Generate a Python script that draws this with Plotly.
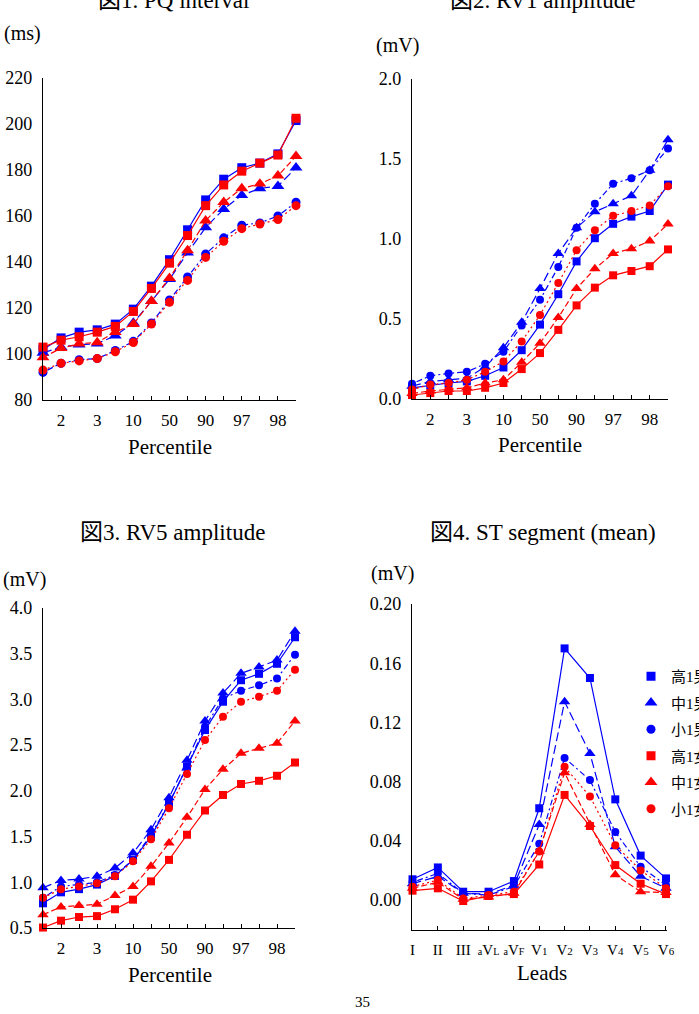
import plotly.graph_objects as go

W, H = 699, 1014

# ---------------- data ----------------
percentile_points = ["1", "2", "2.5", "3", "5", "10", "25", "50", "75", "90", "95", "97", "97.5", "98", "99"]
percentile_ticktext = ["", "2", "", "3", "", "10", "", "50", "", "90", "", "97", "", "98", ""]

lead_names = ["I", "II", "III", "aVL", "aVF", "V1", "V2", "V3", "V4", "V5", "V6"]
lead_ticktext = [
    "I", "II", "III",
    "<span style='font-size:10px'>a</span>V<span style='font-size:10px'>L</span>",
    "<span style='font-size:10px'>a</span>V<span style='font-size:10px'>F</span>",
    "V<span style='font-size:11px'>1</span>", "V<span style='font-size:11px'>2</span>",
    "V<span style='font-size:11px'>3</span>", "V<span style='font-size:11px'>4</span>",
    "V<span style='font-size:11px'>5</span>", "V<span style='font-size:11px'>6</span>",
]

group_names = ["高1男", "中1男", "小1男", "高1女", "中1女", "小1女"]

pq_high_m = [102, 107, 109.5, 110.5, 113, 119.5, 129.5, 141, 154, 167, 176, 181, 183, 187, 201.5]
pq_mid_m = [100.5, 103, 104, 104.5, 108, 113.5, 123, 132.5, 144, 155, 163, 169, 172, 173, 181]
pq_small_m = [92, 96, 97.5, 98, 101.5, 105.5, 113.5, 123.5, 133.5, 143.5, 150.5, 156, 157, 160, 166]
pq_high_f = [103, 106, 107.5, 109.5, 112, 118.5, 128.5, 139.5, 151.5, 164.5, 173.5, 179.5, 183, 186.5, 202.5]
pq_mid_f = [98.5, 102.5, 104.5, 105, 109.5, 113, 123, 133, 145, 158, 166, 172, 174, 177.5, 186]
pq_small_f = [93, 96, 97, 98, 101, 105, 113, 122.5, 132, 142, 149, 154.5, 156.5, 158.5, 164.5]

rv1_high_m = [0.07, 0.085, 0.10, 0.11, 0.145, 0.197, 0.305, 0.465, 0.655, 0.86, 1.005, 1.095, 1.14, 1.175, 1.34]
rv1_mid_m = [0.08, 0.11, 0.12, 0.13, 0.20, 0.32, 0.48, 0.69, 0.91, 1.07, 1.17, 1.22, 1.27, 1.43, 1.62]
rv1_small_m = [0.095, 0.145, 0.16, 0.17, 0.22, 0.295, 0.46, 0.62, 0.825, 1.07, 1.22, 1.345, 1.38, 1.43, 1.565]
rv1_high_f = [0.025, 0.037, 0.05, 0.05, 0.07, 0.10, 0.187, 0.287, 0.432, 0.585, 0.696, 0.773, 0.80, 0.83, 0.935]
rv1_mid_f = [0.035, 0.05, 0.06, 0.07, 0.10, 0.12, 0.229, 0.349, 0.509, 0.69, 0.814, 0.91, 0.939, 0.987, 1.094]
rv1_small_f = [0.06, 0.09, 0.10, 0.12, 0.17, 0.235, 0.36, 0.525, 0.725, 0.93, 1.055, 1.145, 1.175, 1.21, 1.33]

rv5_high_m = [0.77, 0.89, 0.925, 0.975, 1.07, 1.245, 1.5, 1.86, 2.265, 2.665, 2.975, 3.21, 3.28, 3.39, 3.68]
rv5_mid_m = [0.94, 1.02, 1.035, 1.065, 1.155, 1.32, 1.575, 1.925, 2.335, 2.765, 3.07, 3.285, 3.355, 3.43, 3.745]
rv5_small_m = [0.83, 0.955, 0.975, 1.0, 1.08, 1.245, 1.52, 1.865, 2.265, 2.7, 3.01, 3.095, 3.155, 3.23, 3.49]
rv5_high_f = [0.505, 0.58, 0.62, 0.63, 0.705, 0.81, 1.01, 1.245, 1.52, 1.785, 1.955, 2.075, 2.11, 2.165, 2.31]
rv5_mid_f = [0.645, 0.73, 0.745, 0.76, 0.855, 0.955, 1.175, 1.43, 1.71, 2.015, 2.235, 2.41, 2.465, 2.52, 2.765]
rv5_small_f = [0.83, 0.925, 0.955, 0.99, 1.065, 1.23, 1.47, 1.81, 2.185, 2.555, 2.81, 2.975, 3.03, 3.095, 3.325]

st_high_m = [0.014, 0.022, 0.0056, 0.0056, 0.0128, 0.062, 0.170, 0.150, 0.068, 0.030, 0.0146]
st_mid_m = [0.011, 0.016, 0.0045, 0.004, 0.010, 0.051, 0.134, 0.099, 0.036, 0.016, 0.008]
st_small_m = [0.012, 0.018, 0.0045, 0.0034, 0.009, 0.038, 0.096, 0.081, 0.046, 0.0225, 0.010]
st_high_f = [0.0063, 0.0079, -0.0007, 0.0027, 0.004, 0.024, 0.071, 0.050, 0.0236, 0.011, 0.004]
st_mid_f = [0.008, 0.012, 0.0005, 0.002, 0.0045, 0.033, 0.086, 0.051, 0.017, 0.0056, 0.005]
st_small_f = [0.009, 0.0135, 0.001, 0.0034, 0.0056, 0.0327, 0.090, 0.070, 0.037, 0.020, 0.008]

# ---------------- styles ----------------
BLUE, RED = "#0000FF", "#FF0000"
FONT = "Liberation Serif, Times New Roman, Noto Sans CJK JP, serif"
styles = [
    dict(color=BLUE, symbol="square", dash="solid", size_k=1.0),
    dict(color=BLUE, symbol="triangle-up", dash="9px,4px", size_k=1.25),
    dict(color=BLUE, symbol="circle", dash="2px,3px,6px,3px", size_k=1.0),
    dict(color=RED, symbol="square", dash="solid", size_k=1.0),
    dict(color=RED, symbol="triangle-up", dash="6px,3px", size_k=1.25),
    dict(color=RED, symbol="circle", dash="2px,3px", size_k=1.0),
]

fig = go.Figure()


def dom_x(x0, x1):
    return [x0 / W, x1 / W]


def dom_y(top, bottom):
    return [1 - bottom / H, 1 - top / H]


panels = [
    dict(xa="x", ya="y", xs=percentile_points,
         series=[pq_high_m, pq_mid_m, pq_small_m, pq_high_f, pq_mid_f, pq_small_f], msize=9),
    dict(xa="x2", ya="y2", xs=percentile_points,
         series=[rv1_high_m, rv1_mid_m, rv1_small_m, rv1_high_f, rv1_mid_f, rv1_small_f], msize=8),
    dict(xa="x3", ya="y3", xs=percentile_points,
         series=[rv5_high_m, rv5_mid_m, rv5_small_m, rv5_high_f, rv5_mid_f, rv5_small_f], msize=8),
    dict(xa="x4", ya="y4", xs=lead_names,
         series=[st_high_m, st_mid_m, st_small_m, st_high_f, st_mid_f, st_small_f], msize=8),
]

for pi, p in enumerate(panels):
    for si, ys in enumerate(p["series"]):
        st = styles[si]
        fig.add_trace(go.Scatter(
            x=p["xs"], y=ys, xaxis=p["xa"], yaxis=p["ya"],
            mode="lines+markers", name=group_names[si], showlegend=False,
            line=dict(color=st["color"], width=1.2, dash=st["dash"]),
            marker=dict(color=st["color"], symbol=st["symbol"], size=p["msize"] * st["size_k"],
                        line=dict(width=0)),
            cliponaxis=False,
        ))

# marker-only legend entries (as in the reference legend)
for si, name in enumerate(group_names):
    st = styles[si]
    fig.add_trace(go.Scatter(
        x=[None], y=[None], xaxis="x4", yaxis="y4", mode="markers", name=name, showlegend=True,
        legendgroup=name,
        marker=dict(color=st["color"], symbol=st["symbol"], size=9 * st["size_k"], line=dict(width=0)),
    ))

axis_common = dict(showgrid=False, zeroline=False, showline=True, linecolor="black", linewidth=1.2,
                   tickfont=dict(family=FONT, size=17, color="black"), automargin=False)

xcat = dict(axis_common, type="category", tickmode="array", tickvals=percentile_points,
            ticktext=percentile_ticktext, ticks="inside", ticklen=4, tickcolor="black",
            range=[0, 14], ticklabelstandoff=4)

fig.update_layout(
    width=W, height=H, margin=dict(l=0, r=0, t=0, b=0, autoexpand=False),
    paper_bgcolor="white", plot_bgcolor="white",
    font=dict(family=FONT, color="black"),
    xaxis=dict(xcat, domain=dom_x(43, 296), anchor="y"),
    yaxis=dict(axis_common, domain=dom_y(78, 400), range=[80, 220], tickvals=list(range(80, 221, 20)),
               ticks="", anchor="x", tickfont=dict(family=FONT, size=18, color="black"), ticklabelstandoff=6),
    xaxis2=dict(xcat, domain=dom_x(412, 668), anchor="y2"),
    yaxis2=dict(axis_common, domain=dom_y(79, 399), range=[0, 2.0], tickvals=[0, 0.5, 1.0, 1.5, 2.0],
                tickformat=".1f", ticks="", anchor="x2", tickfont=dict(family=FONT, size=18, color="black"),
                ticklabelstandoff=6),
    xaxis3=dict(xcat, domain=dom_x(43, 295), anchor="y3"),
    yaxis3=dict(axis_common, domain=dom_y(608, 928), range=[0.5, 4.0],
                tickvals=[0.5, 1.0, 1.5, 2.0, 2.5, 3.0, 3.5, 4.0], tickformat=".1f", ticks="", anchor="x3",
                tickfont=dict(family=FONT, size=18, color="black"), ticklabelstandoff=6),
    xaxis4=dict(axis_common, type="category", tickmode="array", tickvals=lead_names, ticktext=lead_ticktext,
                ticks="inside", ticklen=4, tickcolor="black", range=[-0.02, 10.04],
                domain=dom_x(412, 667), anchor="y4", tickfont=dict(family=FONT, size=15, color="black"),
                ticklabelstandoff=6),
    yaxis4=dict(axis_common, domain=dom_y(604, 929.6), range=[-0.02, 0.20],
                tickvals=[0, 0.04, 0.08, 0.12, 0.16, 0.20], tickformat=".2f", ticks="", anchor="x4",
                tickfont=dict(family=FONT, size=18, color="black"), ticklabelstandoff=6),
    legend=dict(x=631 / W, xanchor="left", y=1 - 660 / H, yanchor="top",
                font=dict(family=FONT, size=15, color="black"), tracegroupgap=4,
                bgcolor="rgba(0,0,0,0)", itemsizing="trace"),
)


def ann(text, x, y, size, xanchor="center"):
    fig.add_annotation(text=text, x=x / W, y=1 - y / H, xref="paper", yref="paper",
                       xanchor=xanchor, yanchor="middle", showarrow=False,
                       font=dict(family=FONT, size=size, color="black"))


ann("図1. PQ interval", 173, 0.5, 23)
ann("図2. RV1 amplitude", 542, 0.5, 23)
ann("図3. RV5 amplitude", 172, 532, 23)
ann("図4. ST segment (mean)", 543, 532, 23)
ann("(ms)", 22, 33, 20)
ann("(mV)", 397, 45, 20)
ann("(mV)", 24, 579, 20)
ann("(mV)", 392, 573, 20)
ann("Percentile", 170, 447, 21)
ann("Percentile", 540, 445, 21)
ann("Percentile", 170, 975, 21)
ann("Leads", 542, 973, 21)
ann("35", 363, 1002, 15)

fig.write_html("out.html")
